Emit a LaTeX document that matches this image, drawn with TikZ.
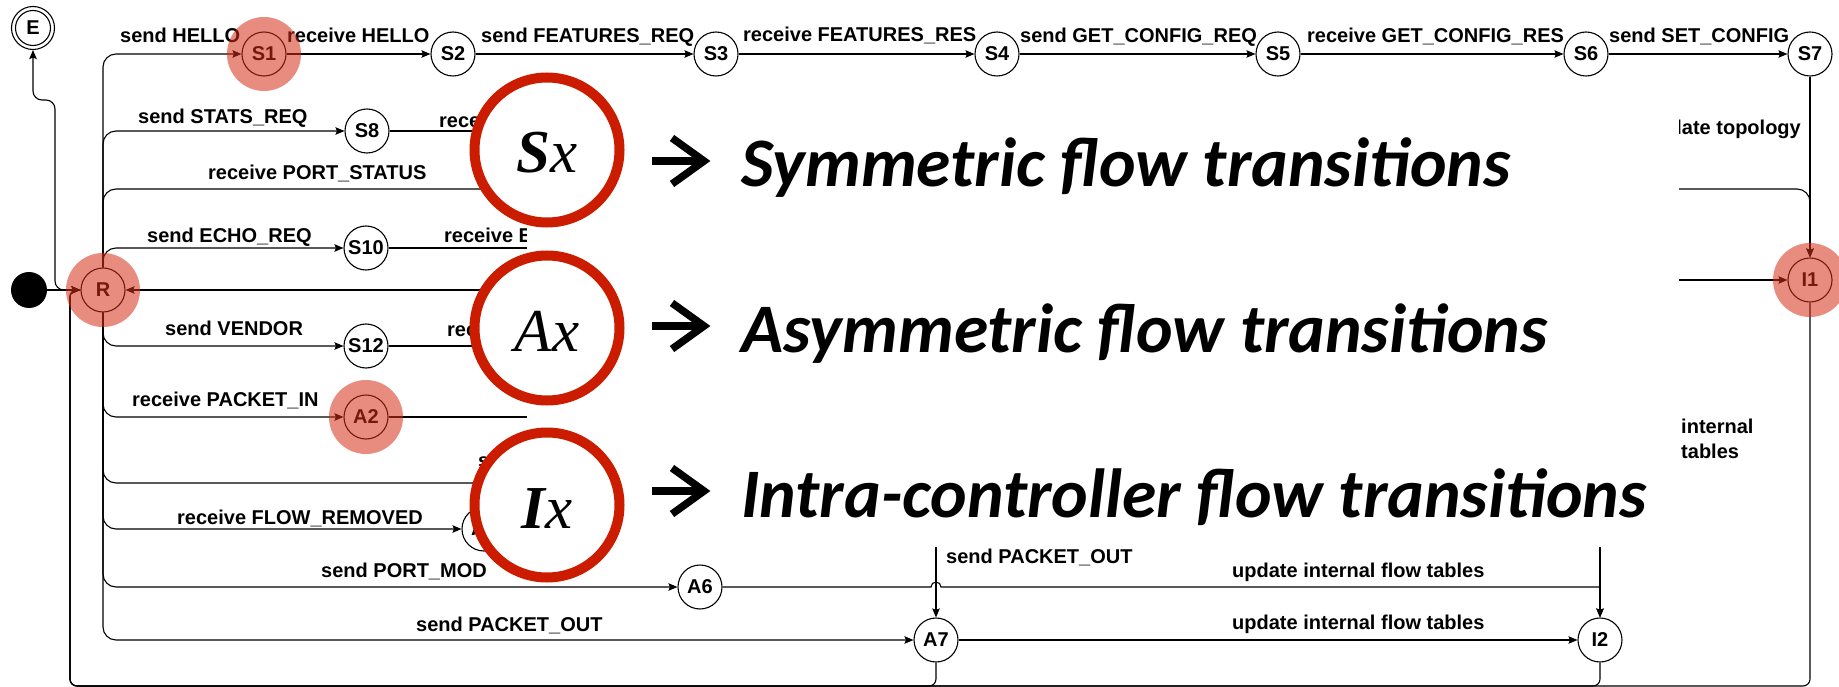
\documentclass[tikz,border=0pt]{standalone}
\usepackage{fontspec}
\setmainfont{Liberation Sans}
\newfontfamily\slidefont{Carlito}
\newfontfamily\ringfont{Liberation Serif}
\usetikzlibrary{arrows.meta}
\definecolor{hlred}{RGB}{213,46,24}
\definecolor{ringred}{RGB}{204,28,0}
\begin{document}
\begin{tikzpicture}[x=1pt,y=-1pt,
  state/.style={circle,draw,line width=1.1pt,minimum size=44pt,inner sep=0pt,font=\fontsize{20}{22}\selectfont\bfseries},
  lbl/.style={font=\fontsize{20}{24}\selectfont\bfseries,inner sep=0pt,anchor=base west},
  edge/.style={line width=1.1pt,-{Stealth[length=9pt,width=7.5pt,inset=1.5pt]},rounded corners=13pt},
  plainedge/.style={line width=1.1pt,-{Stealth[length=9pt,width=7.5pt,inset=1.5pt]}},
  loopback/.style={edge,rounded corners=7pt},
  halo/.style={fill=hlred,fill opacity=0.55},
  ring/.style={circle,draw=ringred,line width=10pt,fill=white,minimum size=145pt,inner sep=0pt},
  ringtext/.style={font=\ringfont\itshape\fontsize{61}{66}\selectfont,inner sep=0pt,anchor=base},
  headline/.style={font=\slidefont\bfseries\itshape\fontsize{69.5}{80}\selectfont,inner sep=0pt,anchor=base west},
  bigarrow/.style={line width=7.5pt}
]
\useasboundingbox (0,0) rectangle (1839,687);

% ---------- states ----------
\node[circle,fill=black,minimum size=36pt,inner sep=0pt] (init) at (29,290) {};
\node[state,minimum size=43pt] (E) at (33,28) {E};
\draw[line width=1.1pt] (E) circle (17.5pt);
\node[state] (R) at (103,290) {R};

\node[state] (S1) at (264,54) {S1};
\node[state] (S2) at (453,54) {S2};
\node[state] (S3) at (716,54) {S3};
\node[state] (S4) at (997,54) {S4};
\node[state] (S5) at (1278,54) {S5};
\node[state] (S6) at (1586,54) {S6};
\node[state] (S7) at (1810,54) {S7};

\node[state] (S8) at (367,131) {S8};
\node[state] (S10) at (366,248) {S10};
\node[state] (S12) at (366,346) {S12};
\node[state] (A2) at (366,417) {A2};
\node[state] (A5) at (484,529) {A5};
\node[state] (A6) at (700,587) {A6};
\node[state] (A7) at (936,640) {A7};
\node[state] (I1) at (1810,280) {I1};
\node[state] (I2) at (1600,640) {I2};

% ---------- route points ----------
\coordinate (e1) at (55,100);
\coordinate (ps) at (1810,189);
\coordinate (bl) at (70,686);
\coordinate (s8out) at (650,131);
\coordinate (s10out) at (650,248);
\coordinate (s12out) at (650,346);
\coordinate (a2out) at (650,417);
\coordinate (a3in) at (650,483);
\coordinate (rin) at (650,290);
\coordinate (iin) at (1500,280);
\coordinate (a7in) at (936,500);
\coordinate (i2in) at (1600,500);

% ---------- transitions ----------
\draw[plainedge] (init) -- (R);
\draw[edge,rounded corners=9pt] (R.west) -| (e1) -| (E.south);

\draw[edge] (R.north) |- (S1);
\draw[plainedge] (S1) -- (S2);
\draw[plainedge] (S2) -- (S3);
\draw[plainedge] (S3) -- (S4);
\draw[plainedge] (S4) -- (S5);
\draw[plainedge] (S5) -- (S6);
\draw[plainedge] (S6) -- (S7);
\draw[plainedge] (S7) -- (I1);

\draw[edge] (R.north) |- (S8);
\draw[plainedge] (S8) -- (s8out);
\draw[edge] (R.north) |- (ps) -- (I1);
\draw[edge] (R.north) |- (S10);
\draw[plainedge] (S10) -- (s10out);
\draw[plainedge] (rin) -- (R);
\draw[plainedge] (iin) -- (I1);

\draw[edge] (R.south) |- (S12);
\draw[plainedge] (S12) -- (s12out);
\draw[edge] (R.south) |- (A2);
\draw[plainedge] (A2) -- (a2out);
\draw[edge] (R.south) |- (a3in);
\draw[edge] (R.south) |- (A5);
\draw[edge] (R.south) |- (A6);
\draw[edge] (R.south) |- (A7);

\draw[plainedge] (a7in) -- (A7);
\draw[plainedge] (i2in) -- (I2);
\draw[plainedge] (A7) -- (I2);
\draw[plainedge] (A6.east) -- (931,587) arc (180:360:5) -- (1600,587) -- (I2.north);

\draw[loopback] (A7.south) |- (bl) |- (R.west);
\draw[loopback] (I2.south) |- (bl) |- (R.west);
\draw[loopback] (I1.south) |- (bl) |- (R.west);

% ---------- transition labels ----------
\node[lbl] (l1) at (120,43) {send HELLO};
\node[lbl] (l2) at (287,43) {receive HELLO};
\node[lbl] (l3) at (481,43) {send FEATURES\_REQ};
\node[lbl] (l4) at (743,42) {receive FEATURES\_RES};
\node[lbl] (l5) at (1020,43) {send GET\_CONFIG\_REQ};
\node[lbl] (l6) at (1307,43) {receive GET\_CONFIG\_RES};
\node[lbl] (l7) at (1609,43) {send SET\_CONFIG};
\node[lbl] (l8) at (138,124) {send STATS\_REQ};
\node[lbl] (l9) at (439,128) {rece};
\node[lbl] (l10) at (208,180) {receive PORT\_STATUS};
\node[lbl] (l11) at (147,242) {send ECHO\_REQ};
\node[lbl] (l12) at (444,242) {receive E};
\node[lbl] (l13) at (165,335) {send VENDOR};
\node[lbl] (l14) at (447,336) {rec};
\node[lbl] (l15) at (132,406) {receive PACKET\_IN};
\node[lbl] (l16) at (478,467) {s};
\node[lbl] (l17) at (177,524) {receive FLOW\_REMOVED};
\node[lbl] (l18) at (321,577) {send PORT\_MOD};
\node[lbl] (l19) at (416,631) {send PACKET\_OUT};
\node[lbl] (l20) at (946,563) {send PACKET\_OUT};
\node[lbl] (l21) at (1232,577) {update internal flow tables};
\node[lbl] (l22) at (1232,629) {update internal flow tables};
\node[lbl,anchor=base east] (l23) at (1801,135) {update topology};
\node[lbl,font=\fontsize{20}{25}\selectfont\bfseries,align=left,anchor=north west] (l24) at (1681,418.5) {internal\\tables};

% ---------- highlighted states ----------
\fill[halo] (S1) circle (37pt);
\fill[halo] (R) circle (37pt);
\fill[halo] (A2) circle (37pt);
\fill[halo] (I1) circle (37pt);

% ---------- legend panel ----------
\fill[white] (527,85) rectangle (1679,547);
\node[ring] (rs) at (547,150) {};
\node[ring] (ra) at (547,328) {};
\node[ring] (ri) at (547,505) {};
\node[ringtext] (ts) at (547,173) {\textbf{S}x};
\node[ringtext] (ta) at (547,351) {Ax};
\node[ringtext] (ti) at (547,528) {\textbf{I}x};

\foreach \b in {187,352,517} {
  \draw[bigarrow] (652,\b-26) -- (700,\b-26);
  \draw[bigarrow] (672,\b-49) -- (704,\b-26) -- (672,\b-3);
}
\node[headline] (h1) at (741,187) {Symmetric flow transitions};
\node[headline] (h2) at (741,352) {Asymmetric flow transitions};
\node[headline] (h3) at (741,517) {Intra-controller flow transitions};
\end{tikzpicture}
\end{document}
